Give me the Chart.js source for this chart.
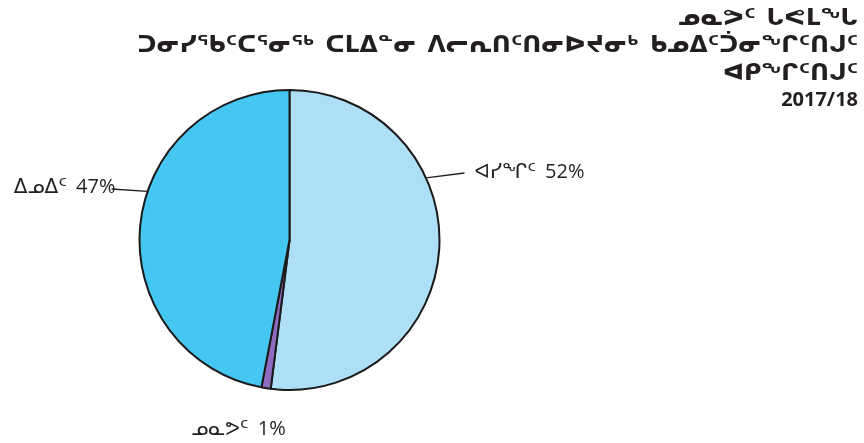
<!DOCTYPE html>
<html>
<head>
<meta charset="utf-8">
<script src="https://cdn.jsdelivr.net/npm/chart.js@4/dist/chart.umd.min.js"></script>
<style>
  body { margin: 0; background: #fff; }
  canvas { display: block; }
</style>
</head>
<body>
<canvas id="myChart" width="864" height="443"></canvas>
<script>
// data
const titleLines = [
    "ᓄᓇᕗᑦ ᒐᕙᒪᖓ",
    "ᑐᓂᓯᖃᑦᑕᕐᓂᖅ ᑕᒪᐃᓐᓂ ᐱᓕᕆᑎᑦᑎᓂᐅᔪᓂᒃ ᑲᓄᐃᑦᑑᓂᖏᑦᑎᒍᑦ",
    "ᐊᑭᖏᑦᑎᒍᑦ",
    "2017/18"
];
const categories = ["ᐊᓯᖏᑦ", "ᓄᓇᕗᑦ", "ᐃᓄᐃᑦ"];
const values = [52, 1, 47];
const sliceColors = ["#addff7", "#8e6cc0", "#45c7f1"];

// where each label sits (offsets from the pie centre), leader line anchor as a fraction of the slice
const labelStyle = [
    { frac: 0.35, lineTo: [175, -67], text: [185, -68], align: "left" },
    { frac: null, lineTo: null, text: [-51, 189], align: "center" },
    { frac: 0.58, lineTo: [-178, -51], text: [-174, -53], align: "right" }
];

const FONT = '"Open Sans", "DejaVu Sans", sans-serif';
const syllabics = /[\u1400-\u167F]/;

const titlePlugin = {
    id: "titleText",
    afterDraw(chart) {
        const ctx = chart.ctx;
        ctx.save();
        ctx.fillStyle = "#231f20";
        ctx.textAlign = "right";
        ctx.textBaseline = "middle";
        for (let i = 0; i < titleLines.length; i++) {
            if (syllabics.test(titleLines[i])) {
                ctx.font = "bold 23.5px " + FONT;
                ctx.wordSpacing = "5px";
            } else {
                ctx.font = "bold 20px " + FONT;
                ctx.wordSpacing = "0px";
            }
            ctx.fillText(titleLines[i], 858, 18 + i * 27.5);
        }
        ctx.restore();
    }
};

const labelPlugin = {
    id: "sliceLabels",
    afterDatasetsDraw(chart) {
        const ctx = chart.ctx;
        const arcs = chart.getDatasetMeta(0).data;
        ctx.save();
        ctx.font = "20px " + FONT;
        ctx.wordSpacing = "4px";
        ctx.fillStyle = "#231f20";
        ctx.strokeStyle = "#231f20";
        ctx.lineWidth = 1.3;
        ctx.textBaseline = "middle";
        arcs.forEach((arc, i) => {
            const p = arc.getProps(["x", "y", "outerRadius", "startAngle", "endAngle"], true);
            const st = labelStyle[i];
            if (st.frac !== null) {
                const a = p.startAngle + (p.endAngle - p.startAngle) * st.frac;
                ctx.beginPath();
                ctx.moveTo(p.x + p.outerRadius * Math.cos(a), p.y + p.outerRadius * Math.sin(a));
                ctx.lineTo(p.x + st.lineTo[0], p.y + st.lineTo[1]);
                ctx.stroke();
            }
            ctx.textAlign = st.align;
            ctx.fillText(categories[i] + " " + values[i] + "%", p.x + st.text[0], p.y + st.text[1]);
        });
        ctx.restore();
    }
};

const ctx = document.getElementById("myChart").getContext("2d");
const myChart = new Chart(ctx, {
    type: "pie",
    data: {
        labels: categories,
        datasets: [{
            data: values,
            backgroundColor: sliceColors,
            borderColor: "#1a1a1a",
            borderWidth: 2
        }]
    },
    options: {
        responsive: false,
        animation: false,
        events: [],
        layout: {
            padding: { left: 138, right: 423, top: 89, bottom: 52 }
        },
        plugins: {
            legend: { display: false },
            tooltip: { enabled: false },
            title: { display: false }
        }
    },
    plugins: [titlePlugin, labelPlugin]
});
</script>
</body>
</html>
